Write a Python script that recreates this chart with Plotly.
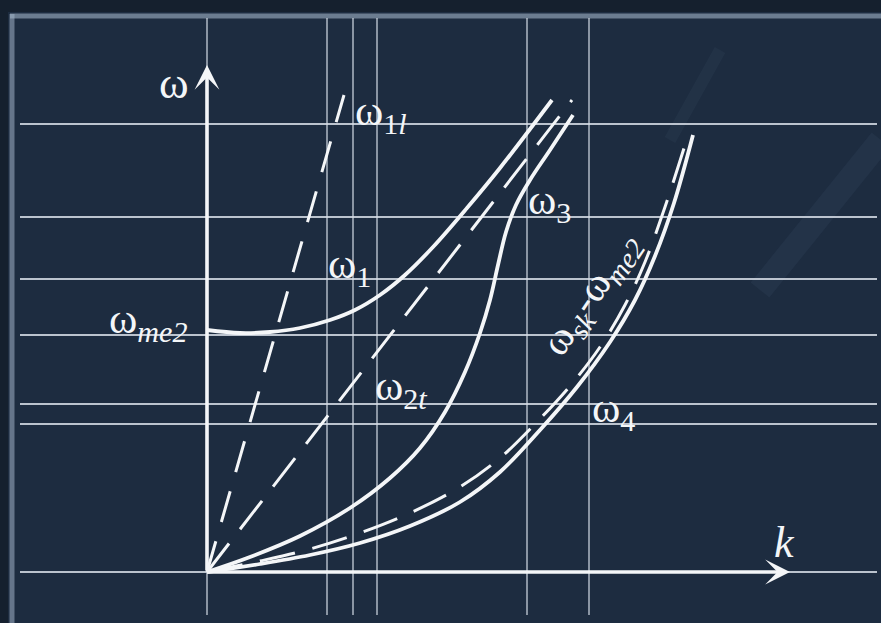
import plotly.graph_objects as go

# ---------------- data (k, omega units) ----------------
w1_k = [0.00, 0.33, 0.63, 0.93, 1.23, 1.48, 1.73, 1.98, 2.26, 2.60, 2.93, 3.45]
w1_w = [2.42, 2.39, 2.40, 2.44, 2.52, 2.62, 2.77, 2.97, 3.25, 3.64, 4.04, 4.72]

w3_k = [0.00, 0.43, 0.93, 1.43, 1.83, 2.13, 2.38, 2.58, 2.73, 2.83, 2.91, 2.99, 3.09, 3.23, 3.43, 3.66]
w3_w = [0.00, 0.15, 0.36, 0.64, 0.94, 1.24, 1.60, 2.00, 2.39, 2.72, 3.07, 3.40, 3.67, 3.92, 4.22, 4.57]

w4_k = [0.00, 0.53, 1.03, 1.53, 2.03, 2.53, 2.93, 3.33, 3.70, 4.03, 4.28, 4.48, 4.67, 4.86]
w4_w = [0.00, 0.08, 0.17, 0.29, 0.46, 0.70, 1.00, 1.42, 1.85, 2.30, 2.72, 3.16, 3.69, 4.37]

wsk_k = [0.00, 0.53, 1.03, 1.53, 2.03, 2.53, 2.93, 3.28, 3.63, 3.93, 4.18, 4.38, 4.58, 4.78]
wsk_w = [0.00, 0.11, 0.23, 0.39, 0.59, 0.85, 1.14, 1.48, 1.86, 2.25, 2.67, 3.10, 3.65, 4.27]

w1l_k = [0.00, 1.37]
w1l_w = [0.00, 4.77]

w2t_k = [0.00, 3.65]
w2t_w = [0.00, 4.72]

grid_k = [0.00, 1.20, 1.46, 1.70, 3.20, 3.82]
grid_w = [0.00, 1.48, 1.68, 2.37, 2.93, 3.55, 4.48]
grid_k_span = [-1.87, 6.70]
grid_w_span = [-0.43, 5.54]

k_axis_end = 5.83
w_axis_end = 5.07

X_RANGE = [-2.07, 6.74]
Y_RANGE = [-0.51, 5.72]

# ---------------- figure ----------------
fig = go.Figure()

BG = "#1d2c40"
GRID = "rgba(215,222,232,0.85)"
WHITE = "#f4f6f8"

for gk in grid_k:
    fig.add_trace(go.Scatter(x=[gk, gk], y=grid_w_span, mode="lines",
                             line=dict(color=GRID, width=1.4), hoverinfo="skip"))
for gw in grid_w:
    fig.add_trace(go.Scatter(x=grid_k_span, y=[gw, gw], mode="lines",
                             line=dict(color=GRID, width=1.8), hoverinfo="skip"))

DASH = "36px,18px"
fig.add_trace(go.Scatter(x=w1l_k, y=w1l_w, mode="lines",
                         line=dict(color=WHITE, width=3, dash="32px,20px")))
fig.add_trace(go.Scatter(x=w2t_k, y=w2t_w, mode="lines",
                         line=dict(color=WHITE, width=3, dash=DASH)))
fig.add_trace(go.Scatter(x=wsk_k, y=wsk_w, mode="lines",
                         line=dict(color=WHITE, width=3, dash=DASH, shape="spline", smoothing=1.0)))

for kk, ww in [(w1_k, w1_w), (w3_k, w3_w), (w4_k, w4_w)]:
    fig.add_trace(go.Scatter(x=kk, y=ww, mode="lines",
                             line=dict(color=WHITE, width=3.8, shape="spline", smoothing=1.0)))

# axes arrows
for (ax_x, ax_y) in [(0, w_axis_end), (k_axis_end, 0)]:
    fig.add_annotation(x=ax_x, y=ax_y, ax=0, ay=0, xref="x", yref="y", axref="x", ayref="y",
                       text="", showarrow=True, arrowhead=3, arrowwidth=3.6, arrowsize=1.15,
                       arrowcolor=WHITE)

SERIF = "Liberation Serif, DejaVu Serif, serif"
def lab(text, x, y, size=43, angle=0, xanchor="left"):
    fig.add_annotation(x=x, y=y, xref="x", yref="y", text=text, showarrow=False,
                       xanchor=xanchor, yanchor="middle", textangle=angle,
                       font=dict(family=SERIF, size=size, color=WHITE))

lab("ω", -0.33, 4.89, size=45, xanchor="center")
lab("ω<sub>1<i>l</i></sub>", 1.46, 4.58)
lab("ω<sub>1</sub>", 1.19, 3.05)
lab("ω<sub><i>me2</i></sub>", -1.00, 2.50)
lab("ω<sub>2<i>t</i></sub>", 1.66, 1.83)
lab("ω<sub>3</sub>", 3.19, 3.69)
lab("ω<sub>4</sub>", 3.83, 1.61)
lab("<i>k</i>", 5.77, 0.30, size=44, xanchor="center")
lab("ω<sub><i>sk</i></sub>-ω<sub><i>me2</i></sub>", 3.84, 2.77, size=41, angle=-56, xanchor="center")

# ---------------- decoration (frame, background) ----------------
W, H = 881, 623
def px(x):
    return x / W
def py(y):
    return 1 - y / H

shapes = [
    dict(type="rect", xref="paper", yref="paper", x0=0, x1=1, y0=py(12), y1=1,
         fillcolor="#15202e", line=dict(width=0), layer="below"),
    dict(type="rect", xref="paper", yref="paper", x0=0, x1=px(8), y0=0, y1=1,
         fillcolor="#15202e", line=dict(width=0), layer="below"),
    dict(type="line", xref="paper", yref="paper", x0=px(12), x1=px(12), y0=py(14), y1=0,
         line=dict(color="rgba(160,178,198,0.55)", width=5), layer="below"),
    dict(type="line", xref="paper", yref="paper", x0=px(10), x1=1, y0=py(16), y1=py(16),
         line=dict(color="rgba(160,178,198,0.6)", width=5), layer="below"),
    dict(type="line", xref="paper", yref="paper", x0=px(760), x1=px(881), y0=py(290), y1=py(140),
         line=dict(color="rgba(140,170,200,0.06)", width=24), layer="below"),
    dict(type="line", xref="paper", yref="paper", x0=px(670), x1=px(720), y0=py(140), y1=py(50),
         line=dict(color="rgba(140,170,200,0.05)", width=12), layer="below"),
]

fig.update_layout(
    width=W, height=H,
    margin=dict(l=0, r=0, t=0, b=0),
    paper_bgcolor=BG,
    plot_bgcolor=BG,
    showlegend=False,
    shapes=shapes,
    xaxis=dict(range=X_RANGE, visible=False, fixedrange=True),
    yaxis=dict(range=Y_RANGE, visible=False, fixedrange=True),
)

fig.write_html(
    "out.html",
    config={"displayModeBar": False},
    post_script="document.body.style.margin='0';document.body.style.background='" + BG + "';",
)
